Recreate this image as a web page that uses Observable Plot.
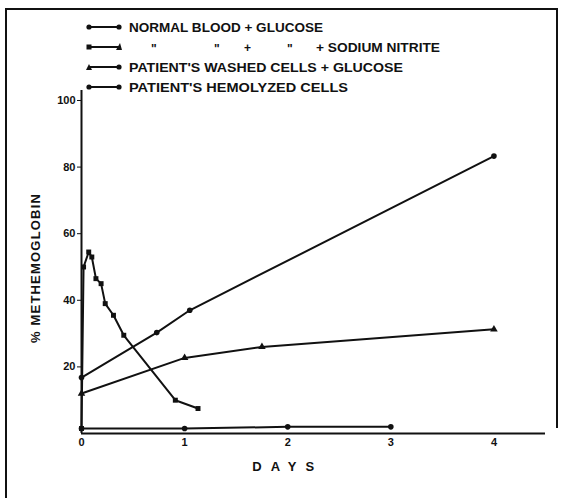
<!DOCTYPE html>
<html>
<head>
<meta charset="utf-8">
<script src="https://cdn.jsdelivr.net/npm/d3@7"></script>
<script src="https://cdn.jsdelivr.net/npm/@observablehq/plot@0.6"></script>
<style>
  html, body { margin: 0; padding: 0; background: #fff; }
  #wrap { position: relative; width: 566px; height: 498px; overflow: hidden; background: #fff; }
  #frame { position: absolute; left: 5px; top: 8px; width: 551px; height: 500px; border-left: 2px solid #111; border-top: 2px solid #111; }
  #frameR { position: absolute; left: 556px; top: 8px; width: 0; height: 420px; border-left: 2px solid #111; }
  #legend { position: absolute; left: 0; top: 0; }
  #chart { position: absolute; left: 0; top: 0; }
  #chart svg text { font-family: "Liberation Sans", Arial, sans-serif; font-weight: bold; }
</style>
</head>
<body>
<div id="wrap">
  <div id="frame"></div>
  <div id="frameR"></div>
  <div id="chart"></div>
  <svg id="legend" width="566" height="100" font-family="Liberation Sans, Arial, sans-serif" font-weight="bold" font-size="12" fill="#111">
    <g stroke="#111" stroke-width="2">
      <line x1="89" y1="27" x2="119" y2="27"/>
      <line x1="89" y1="47" x2="119" y2="47"/>
      <line x1="89" y1="67" x2="119" y2="67"/>
      <line x1="89" y1="87" x2="119" y2="87"/>
    </g>
    <g stroke="none">
      <circle cx="89" cy="27" r="2.6"/><circle cx="119" cy="27" r="2.6"/>
      <rect x="86.5" y="44.5" width="5" height="5"/><path d="M116,50 L120,43 L122,50 Z"/>
      <path d="M86,70 L89,64 L92,70 Z"/><circle cx="119" cy="67" r="2.6"/>
      <circle cx="89" cy="87" r="2.6"/><circle cx="119" cy="87" r="2.6"/>
    </g>
    <text x="129" y="31.5" textLength="194" lengthAdjust="spacingAndGlyphs">NORMAL BLOOD + GLUCOSE</text>
    <text x="151" y="53">"</text>
    <text x="214" y="53">"</text>
    <text x="244" y="51.5">+</text>
    <text x="287" y="53">"</text>
    <text x="316" y="51.5" textLength="124" lengthAdjust="spacingAndGlyphs">+ SODIUM NITRITE</text>
    <text x="129" y="71.5" textLength="274" lengthAdjust="spacingAndGlyphs">PATIENT'S WASHED CELLS + GLUCOSE</text>
    <text x="129" y="91.5" textLength="219" lengthAdjust="spacingAndGlyphs">PATIENT'S HEMOLYZED CELLS</text>
  </svg>
</div>
<script>
// Series names
const seriesNames = [
  "Normal blood + glucose",
  "Normal blood + glucose + sodium nitrite",
  "Patient's washed cells + glucose",
  "Patient's hemolyzed cells"
];
// Normal blood + glucose
const normalDays = [0, 1, 2, 3];
const normalValues = [1.5, 1.5, 2, 2];
// Normal blood + glucose + sodium nitrite
const nitriteDays = [0, 0.02, 0.07, 0.10, 0.14, 0.19, 0.23, 0.31, 0.41, 0.91, 1.13];
const nitriteValues = [1.5, 50, 54.5, 53, 46.5, 45, 39, 35.5, 29.5, 10, 7.5];
// Patient's washed cells + glucose
const washedDays = [0, 1.0, 1.75, 4];
const washedValues = [12, 22.7, 26, 31.3];
// Patient's hemolyzed cells
const hemoDays = [0, 0.73, 1.05, 4];
const hemoValues = [16.8, 30.3, 37, 83.3];

const xTicks = [0, 1, 2, 3, 4];
const yTicks = [20, 40, 60, 80, 100];
const xLabel = "DAYS";
const yLabel = "% METHEMOGLOBIN";

const rows = [];
[[normalDays, normalValues], [nitriteDays, nitriteValues], [washedDays, washedValues], [hemoDays, hemoValues]]
  .forEach(([ds, vs], i) => ds.forEach((d, j) => rows.push({series: seriesNames[i], day: d, value: vs[j]})));

const chart = Plot.plot({
  width: 566,
  height: 498,
  marginTop: 90,
  marginBottom: 65,
  marginLeft: 81,
  marginRight: 21,
  style: {background: "transparent", color: "#111", fontSize: "11px", fontFamily: "Liberation Sans, Arial, sans-serif"},
  x: {domain: [0, 4.5]},
  y: {domain: [0, 103]},
  symbol: {domain: seriesNames, range: ["circle", "square", "triangle", "circle"]},
  marks: [
    Plot.ruleX([0], {y1: 0, y2: 103, stroke: "#111", strokeWidth: 2}),
    Plot.ruleY([0], {x1: 0, x2: 4.5, stroke: "#111", strokeWidth: 2}),
    Plot.axisY({ticks: yTicks, tickSize: 4, tickPadding: 2, label: null, fontSize: 11, tickFormat: d => String(d)}),
    Plot.axisX({ticks: xTicks, tickSize: 0, tickPadding: 5, label: null, fontSize: 11, tickFormat: d => String(d)}),
    Plot.line(rows, {x: "day", y: "value", z: "series", stroke: "#111", strokeWidth: 2}),
    Plot.dot(rows, {x: "day", y: "value", symbol: "series", r: 2.8, fill: "#111", stroke: "none"}),
    Plot.text([xLabel], {x: 2, frameAnchor: "bottom", dy: 37, fontSize: 13, fontWeight: "bold", fill: "#111"}),
    Plot.text([yLabel], {frameAnchor: "left", textAnchor: "middle", rotate: -90, dx: -46, dy: 6, fontSize: 13, fontWeight: "bold", fill: "#111"})
  ]
});
document.getElementById("chart").appendChild(chart);
// letter spacing for axis titles
chart.querySelectorAll("text").forEach(t => {
  if (t.textContent === xLabel) t.setAttribute("letter-spacing", "9");
  if (t.textContent === yLabel) t.setAttribute("letter-spacing", "1.2");
});
</script>
</body>
</html>
